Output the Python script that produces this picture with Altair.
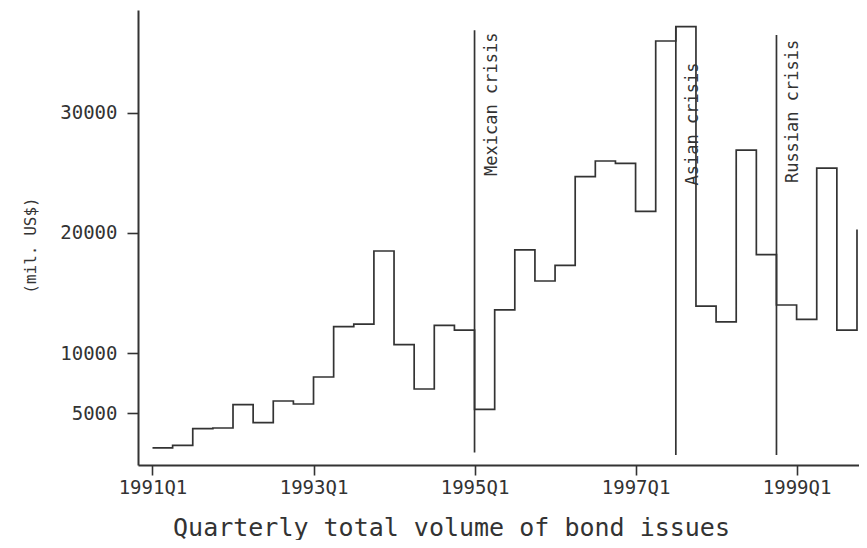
import altair as alt
import pandas as pd

# ---- data ----
quarters = [
    "1991Q1", "1991Q2", "1991Q3", "1991Q4",
    "1992Q1", "1992Q2", "1992Q3", "1992Q4",
    "1993Q1", "1993Q2", "1993Q3", "1993Q4",
    "1994Q1", "1994Q2", "1994Q3", "1994Q4",
    "1995Q1", "1995Q2", "1995Q3", "1995Q4",
    "1996Q1", "1996Q2", "1996Q3", "1996Q4",
    "1997Q1", "1997Q2", "1997Q3", "1997Q4",
    "1998Q1", "1998Q2", "1998Q3", "1998Q4",
    "1999Q1", "1999Q2", "1999Q3", "1999Q4",
]
volume = [
    2100, 2300, 3700, 3750,
    5700, 4200, 6000, 5750,
    8000, 12200, 12400, 18500,
    10700, 7000, 12300, 11900,
    5300, 13600, 18600, 16000,
    17300, 24700, 26000, 25800,
    21800, 36000, 37200, 13900,
    12600, 26900, 18200, 14000,
    12800, 25400, 11900, 20300,
]
tick_labels = ["1991Q1", "1993Q1", "1995Q1", "1997Q1", "1999Q1"]
y_ticks = [5000, 10000, 20000, 30000]

crisis_names = ["Mexican crisis", "Asian crisis", "Russian crisis"]
crisis_quarter = ["1995Q1", "1997Q3", "1998Q4"]
crisis_low = [1700, 1500, 1500]
crisis_high = [36900, 37200, 36500]
crisis_label_top = [36700, 34200, 36100]

# ---- tables ----
series = pd.DataFrame({"t": list(range(len(quarters))), "v": volume, "q": quarters})
crises = pd.DataFrame({
    "t": [quarters.index(q) for q in crisis_quarter],
    "v": crisis_low,
    "v2": crisis_high,
    "name": crisis_names,
})
labels = pd.DataFrame({
    "t": [quarters.index(q) for q in crisis_quarter],
    "v": crisis_label_top,
    "name": crisis_names,
})

tick_vals = [quarters.index(q) for q in tick_labels]
label_expr = " : ".join(
    [f"datum.value == {v} ? '{l}'" for v, l in zip(tick_vals, tick_labels)] + ["''"]
)

FONT = "DejaVu Sans Mono"
INK = "#333333"

x_enc = alt.X(
    "t:Q",
    scale=alt.Scale(domain=[-0.72, 35.1], nice=False, zero=False),
    axis=alt.Axis(
        values=tick_vals, labelExpr=label_expr, grid=False,
        domainColor=INK, domainWidth=2, tickColor=INK, tickWidth=1.6, tickSize=10,
        labelFont=FONT, labelFontSize=19, labelColor=INK, labelPadding=3,
        title="Quarterly total volume of bond issues",
        titleFont=FONT, titleFontSize=25, titleFontWeight="normal", titleColor=INK,
        titleX=313, titleY=70, titleBaseline="alphabetic", titleAlign="center",
    ),
)
y_enc = alt.Y(
    "v:Q",
    scale=alt.Scale(domain=[667, 38583], nice=False, zero=False),
    axis=alt.Axis(
        values=y_ticks, format="d", grid=False,
        domainColor=INK, domainWidth=2, tickColor=INK, tickWidth=1.6, tickSize=11,
        labelFont=FONT, labelFontSize=19, labelColor=INK, labelPadding=10,
        title="(mil. US$)",
        titleFont=FONT, titleFontSize=16, titleFontWeight="normal", titleColor=INK,
        titleAngle=270, titleX=-103, titleY=235, titleBaseline="alphabetic",
        titleAlign="center",
    ),
)

line = alt.Chart(series).mark_line(
    interpolate="step-after", color=INK, strokeWidth=1.7
).encode(x=x_enc, y=y_enc)

rules = alt.Chart(crises).mark_rule(color=INK, strokeWidth=1.7).encode(
    x=x_enc, y=y_enc, y2="v2:Q"
)

texts = alt.Chart(labels).mark_text(
    angle=270, align="right", baseline="top", dy=9,
    font=FONT, fontSize=17, color=INK,
).encode(x=x_enc, y=y_enc, text="name:N")

chart = alt.layer(line, rules, texts).properties(
    width=721,
    height=455,
    autosize=alt.AutoSizeParams(type="none"),
    padding={"left": 130, "top": 2, "right": 0, "bottom": 75},
    background="white",
).configure_view(stroke=None)

chart.save("out.html", embed_options={"renderer": "svg", "actions": False})
